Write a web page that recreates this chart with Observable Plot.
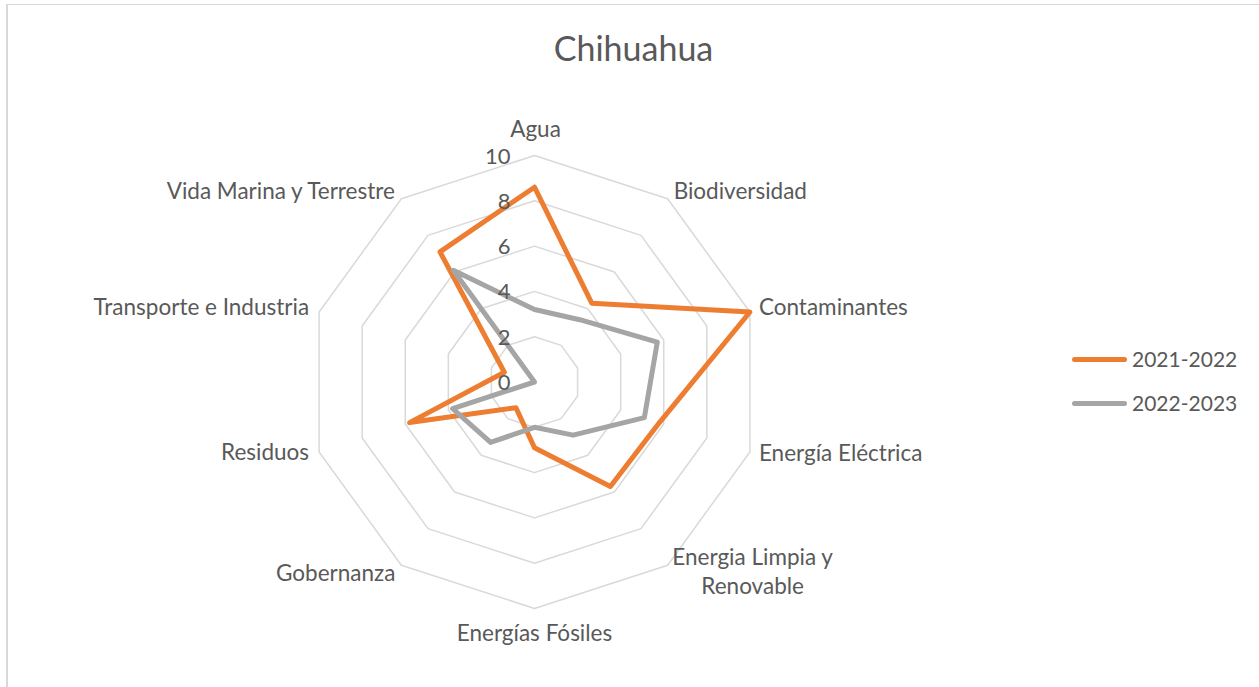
<!DOCTYPE html>
<html><head><meta charset="utf-8">
<script src="https://cdn.jsdelivr.net/npm/d3@7"></script>
<script src="https://cdn.jsdelivr.net/npm/@observablehq/plot@0.6"></script>
<style>
html,body{margin:0;padding:0;background:#fff;}
#wrap{position:relative;width:1259px;height:687px;overflow:hidden;font-family:Lato,sans-serif;color:#595959;}
#border{position:absolute;left:6px;top:4px;width:1400px;height:800px;border-left:2px solid #d9d9d9;border-top:1px solid #d9d9d9;}
#title{position:absolute;left:0;width:1267px;top:28px;text-align:center;font-size:34px;line-height:1.2;}
#chart{position:absolute;left:0;top:0;}
.lg-bar{position:absolute;left:1072px;width:55px;height:5px;border-radius:2.5px;}
.lg-txt{position:absolute;left:1132px;font-size:21px;line-height:1.2;white-space:nowrap;}
</style></head>
<body>
<div id="wrap">
  <div id="border"></div>
  <div id="chart"></div>
  <div id="title"></div>
  <div id="legend"></div>
</div>
<script>
const title = "Chihuahua";
const categories = ["Agua","Biodiversidad","Contaminantes","Energía Eléctrica","Energia Limpia y\nRenovable","Energías Fósiles","Gobernanza","Residuos","Transporte e Industria","Vida Marina y Terrestre"];
const seriesNames = ["2021-2022","2022-2023"];
const values2021 = [8.6, 4.3, 10, 5.8, 5.7, 2.9, 1.4, 5.8, 1.4, 7.1];
const values2022 = [3.2, 3.4, 5.7, 5.1, 2.9, 2.0, 3.3, 3.8, 0, 6.1];
const ticks = [0, 2, 4, 6, 8, 10];
const colors = ["#ED7D31", "#A5A5A5"];

const n = categories.length;
const maxR = 10;
const ang = i => i * 2 * Math.PI / n;
const px = (r, i) => r * Math.sin(ang(i));
const py = (r, i) => r * Math.cos(ang(i));

// rings
const rings = [];
ticks.filter(t => t > 0).forEach(t => {
  for (let i = 0; i <= n; i++) rings.push({t, x: px(t, i % n), y: py(t, i % n)});
});
// series
const seriesRows = [];
[values2021, values2022].forEach((vals, s) => {
  for (let i = 0; i <= n; i++) {
    const v = vals[i % n];
    seriesRows.push({series: seriesNames[s], x: px(v, i % n), y: py(v, i % n)});
  }
});

// pixel layout of the scale (center and px per unit)
const W = 1259, H = 687, cx = 534, cy = 381.5, k = 22.65;

const labelOpts = [
  {textAnchor: "middle", dx: 1, dy: -28},
  {textAnchor: "start", dx: 6, dy: -9},
  {textAnchor: "start", dx: 9, dy: -6},
  {textAnchor: "start", dx: 9, dy: -0.5},
  {textAnchor: "middle", dx: 85, dy: 5},
  {textAnchor: "middle", dx: 0, dy: 23},
  {textAnchor: "end", dx: -6, dy: 6},
  {textAnchor: "end", dx: -10, dy: -1},
  {textAnchor: "end", dx: -10, dy: -6.5},
  {textAnchor: "end", dx: -6.5, dy: -9}
];

const labelMarks = categories.map((c, i) => Plot.text([{c, x: px(maxR, i), y: py(maxR, i)}], {
  x: "x", y: "y", text: "c", fill: "#595959", fontSize: 22.5, lineHeight: 1.3,
  lineAnchor: "middle", ...labelOpts[i]
}));

const chart = Plot.plot({
  width: W, height: H,
  marginTop: 0, marginRight: 0, marginBottom: 0, marginLeft: 0,
  style: {fontFamily: "Lato, sans-serif", background: "transparent"},
  x: {domain: [-cx / k, (W - cx) / k], range: [0, W], axis: null},
  y: {domain: [(cy - H) / k, cy / k], range: [H, 0], axis: null},
  color: {domain: seriesNames, range: colors},
  marks: [
    Plot.line(rings, {x: "x", y: "y", z: "t", stroke: "#D9D9D9", strokeWidth: 1.5}),
    Plot.line(seriesRows, {x: "x", y: "y", z: "series", stroke: "series", strokeWidth: 5, strokeLinejoin: "round", strokeLinecap: "round"}),
    Plot.text(ticks, {x: 0, y: d => d, text: d => String(d), textAnchor: "end", dx: -24, dy: 1, fill: "#595959", fontSize: 22}),
    ...labelMarks
  ]
});
document.getElementById("chart").appendChild(chart);
document.getElementById("title").textContent = title;

const lg = document.getElementById("legend");
seriesNames.forEach((s, i) => {
  const bar = document.createElement("div");
  bar.className = "lg-bar";
  bar.style.top = (357 + i * 44) + "px";
  bar.style.background = colors[i];
  lg.appendChild(bar);
  const t = document.createElement("div");
  t.className = "lg-txt";
  t.style.top = (346 + i * 44) + "px";
  t.textContent = s;
  lg.appendChild(t);
});
</script>
</body></html>
